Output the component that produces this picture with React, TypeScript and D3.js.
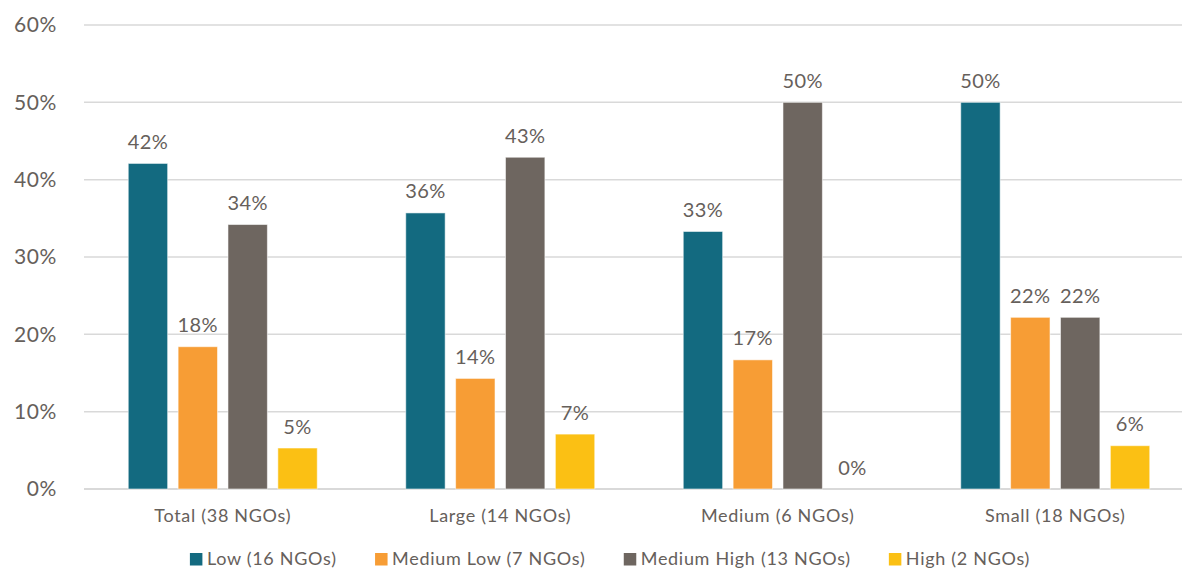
import React, { useMemo } from "react";
import * as d3 from "d3";

// Share of NGOs in each risk band, by organisation size
const categories = ["Total (38 NGOs)", "Large (14 NGOs)", "Medium (6 NGOs)", "Small (18 NGOs)"];
const seriesNames = ["Low (16 NGOs)", "Medium Low (7 NGOs)", "Medium High (13 NGOs)", "High (2 NGOs)"];
const lowValues = [0.421, 0.357, 0.333, 0.5];
const mediumLowValues = [0.184, 0.143, 0.167, 0.222];
const mediumHighValues = [0.342, 0.429, 0.5, 0.222];
const highValues = [0.053, 0.071, 0, 0.056];
const yTicks = [0, 0.1, 0.2, 0.3, 0.4, 0.5, 0.6];
const seriesColors = ["#136A80", "#F79D35", "#6E6660", "#FBC014"];

const W = 1182;
const H = 569;
const FONT = "Lato, 'Noto Sans', sans-serif";
const TEXT = "#66605B";
const SMALL_SIZE = 18;
const SMALL_LS = 0.7;

function measure(text: string, size: number, ls: number): number {
  const fallback = text.length * size * 0.5;
  if (typeof document === "undefined") return fallback;
  const c = document.createElement("canvas").getContext("2d");
  if (!c) return fallback;
  c.font = `${size}px ${FONT}`;
  return c.measureText(text).width + ls * text.length;
}

export default function App() {
  const margin = { left: 84, right: -12, top: 25, bottom: 80 };
  const values = [lowValues, mediumLowValues, mediumHighValues, highValues];

  const x0 = d3.scaleBand<string>().domain(categories).range([margin.left, W - margin.right]).padding(0);
  const groupWidth = 189;
  const bw = x0.bandwidth();
  const x1 = d3
    .scaleBand<string>()
    .domain(seriesNames)
    .range([(bw - groupWidth) / 2, (bw + groupWidth) / 2])
    .paddingInner(0.21);
  const y = d3.scaleLinear().domain([0, 0.6]).range([H - margin.bottom, margin.top]);
  const fmt = d3.format(".0%");

  const legendItems = useMemo(() => {
    const marker = 12.5;
    const gapMarkerText = 4.5;
    const gapItems = 38;
    const widths = seriesNames.map((s) => measure(s, SMALL_SIZE, SMALL_LS));
    const total = widths.reduce((a, w) => a + marker + gapMarkerText + w, 0) + gapItems * (seriesNames.length - 1);
    let cx = 610 - total / 2;
    return seriesNames.map((s, i) => {
      const item = { name: s, x: cx, color: seriesColors[i], marker, tx: cx + marker + gapMarkerText };
      cx += marker + gapMarkerText + widths[i] + gapItems;
      return item;
    });
  }, []);

  return (
    <svg
      width={W}
      height={H}
      style={{ position: "absolute", left: 0, top: 0, background: "#fff" }}
      fontFamily={FONT}
    >
      {/* gridlines and y axis labels */}
      {yTicks.map((t) => (
        <g key={t}>
          <line
            x1={margin.left}
            x2={W}
            y1={y(t)}
            y2={y(t)}
            stroke="#D9D9D9"
            strokeWidth={t === 0 ? 2 : 1.5}
          />
          <text x={57} y={y(t)} dy="0.35em" textAnchor="end" fontSize={21} letterSpacing={0.6} fill={TEXT}>
            {fmt(t)}
          </text>
        </g>
      ))}

      {/* bars */}
      {categories.map((cat, ci) => (
        <g key={cat} transform={`translate(${x0(cat)},0)`}>
          {seriesNames.map((s, si) => {
            const v = values[si][ci];
            const bx = x1(s)!;
            return (
              <g key={s}>
                {v > 0 && (
                  <rect
                    x={bx}
                    y={y(v)}
                    width={x1.bandwidth()}
                    height={y(0) - y(v)}
                    fill={seriesColors[si]}
                    stroke="rgba(255,255,255,0.55)"
                    strokeWidth={1}
                  />
                )}
                <text
                  x={bx + x1.bandwidth() / 2}
                  y={y(v) - 14.5}
                  textAnchor="middle"
                  fontSize={20}
                  letterSpacing={0.4}
                  fill={TEXT}
                >
                  {fmt(v)}
                </text>
              </g>
            );
          })}
          <text
            x={bw / 2}
            y={522}
            textAnchor="middle"
            fontSize={SMALL_SIZE}
            letterSpacing={SMALL_LS}
            fill={TEXT}
          >
            {cat}
          </text>
        </g>
      ))}

      {/* legend */}
      {legendItems.map((it) => (
        <g key={it.name}>
          <rect x={it.x} y={553} width={it.marker} height={it.marker} fill={it.color} />
          <text x={it.tx} y={565} fontSize={SMALL_SIZE} letterSpacing={SMALL_LS} fill={TEXT}>
            {it.name}
          </text>
        </g>
      ))}
    </svg>
  );
}
